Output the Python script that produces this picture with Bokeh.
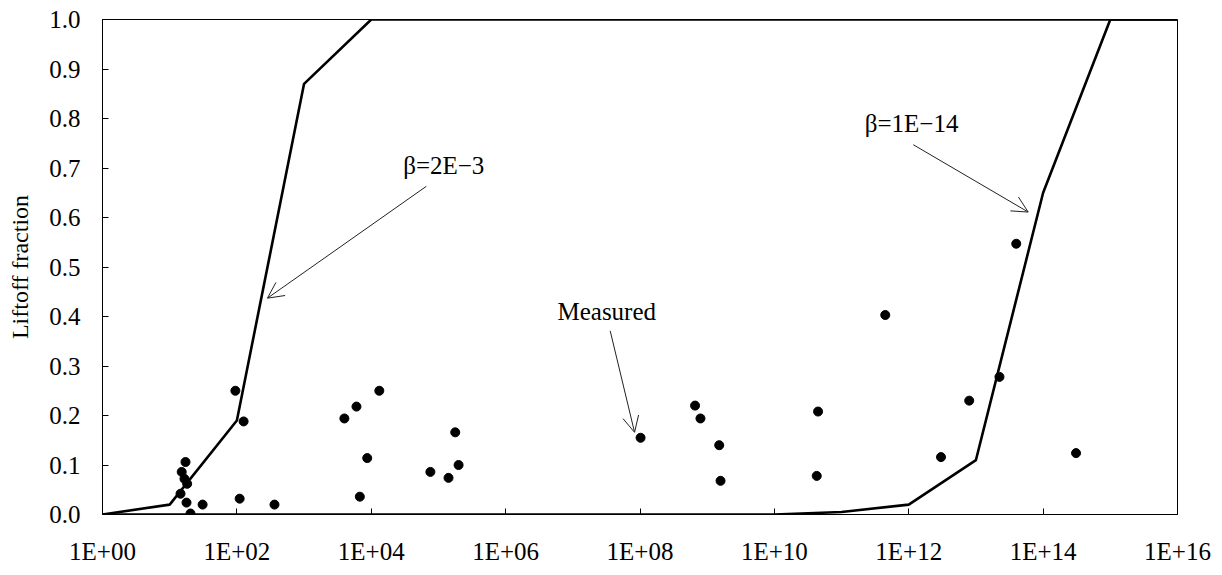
from bokeh.plotting import figure
from bokeh.models import FixedTicker, NumeralTickFormatter, Arrow, OpenHead, Label
from bokeh.embed import file_html
from bokeh.resources import INLINE

# ---- data ----
x_ticks = [1e0, 1e2, 1e4, 1e6, 1e8, 1e10, 1e12, 1e14, 1e16]
x_tick_labels = ["1E+00", "1E+02", "1E+04", "1E+06", "1E+08", "1E+10", "1E+12", "1E+14", "1E+16"]
y_ticks = [0.0, 0.1, 0.2, 0.3, 0.4, 0.5, 0.6, 0.7, 0.8, 0.9, 1.0]

beta_2e3_x = [1, 10, 100, 1000, 1e4, 1e16]
beta_2e3_y = [0.0, 0.02, 0.19, 0.87, 1.0, 1.0]

beta_1e14_x = [1, 1e10, 1e11, 1e12, 1e13, 1e14, 1e15, 1e16]
beta_1e14_y = [0.0, 0.0, 0.005, 0.02, 0.11, 0.65, 1.0, 1.0]

measured_x = [95, 126, 17.2, 15.1, 16.6, 18.2, 14.5, 17.8, 30.9, 20.4, 110, 363,
              3981, 6026, 13183, 8710, 6761, 75858, 141254, 177828, 199526,
              1.02e8, 6.6e8, 7.94e8, 1.51e9, 1.58e9, 4.47e10, 4.27e10, 4.47e11,
              3.02e12, 7.94e12, 2.24e13, 3.98e13, 3.09e14]
measured_y = [0.25, 0.188, 0.106, 0.086, 0.072, 0.062, 0.042, 0.024, 0.02, 0.002, 0.032, 0.02,
              0.194, 0.218, 0.25, 0.114, 0.036, 0.086, 0.074, 0.166, 0.100,
              0.155, 0.22, 0.194, 0.14, 0.068, 0.208, 0.078, 0.403,
              0.116, 0.230, 0.278, 0.547, 0.124]

annot_texts = ["\u03b2=2E\u22123", "\u03b2=1E\u221214", "Measured"]
annot_x = [1.2e5, 1.1e12, 3.2e7]
annot_y = [0.705, 0.79, 0.41]
arrow_start_x = [6.6e4, 1.17e12, 3.6e7]
arrow_start_y = [0.663, 0.747, 0.371]
arrow_end_x = [285, 6.0e13, 8.3e7]
arrow_end_y = [0.437, 0.611, 0.166]

FONT = "Liberation Serif"

p = figure(width=1214, height=567, x_axis_type="log",
           x_range=(1, 1e16), y_range=(0, 1.0),
           output_backend="svg", toolbar_location=None,
           min_border_left=102, min_border_right=37, min_border_top=19, min_border_bottom=49)

p.xgrid.visible = False
p.ygrid.visible = False
p.outline_line_color = "black"
p.outline_line_width = 1
p.background_fill_color = "white"
p.border_fill_color = "white"

p.line(beta_2e3_x, beta_2e3_y, line_color="black", line_width=2.6)
p.line(beta_1e14_x, beta_1e14_y, line_color="black", line_width=2.6)
p.scatter(measured_x, measured_y, size=9, color="black", marker="circle")

for t, tx, ty in zip(annot_texts, annot_x, annot_y):
    p.add_layout(Label(x=tx, y=ty, text=t, text_font=FONT, text_font_size="25px",
                       text_align="center", text_baseline="middle", text_color="black"))

for sx, sy, ex, ey in zip(arrow_start_x, arrow_start_y, arrow_end_x, arrow_end_y):
    p.add_layout(Arrow(x_start=sx, y_start=sy, x_end=ex, y_end=ey,
                       line_color="#222222", line_width=1,
                       end=OpenHead(size=16, line_color="#222222", line_width=1)))

xa = p.xaxis[0]
xa.ticker = FixedTicker(ticks=x_ticks)
xa.major_label_overrides = {float(k): v for k, v in zip(x_ticks, x_tick_labels)}
ya = p.yaxis[0]
ya.ticker = FixedTicker(ticks=y_ticks)
ya.formatter = NumeralTickFormatter(format="0.0")
ya.axis_label = "Liftoff fraction"

for ax in (xa, ya):
    ax.major_label_text_font = FONT
    ax.major_label_text_font_size = "25px"
    ax.major_label_text_color = "black"
    ax.axis_label_text_font = FONT
    ax.axis_label_text_font_size = "24px"
    ax.axis_label_text_font_style = "normal"
    ax.axis_label_text_color = "black"
    ax.axis_line_color = "black"
    ax.axis_line_width = 1
    ax.major_tick_in = 6
    ax.major_tick_out = 0
    ax.major_tick_line_color = "black"
    ax.minor_tick_line_color = None
xa.major_label_standoff = 23
ya.major_label_standoff = 22
ya.axis_label_standoff = 13

open("out.html", "w").write(file_html(p, INLINE))
